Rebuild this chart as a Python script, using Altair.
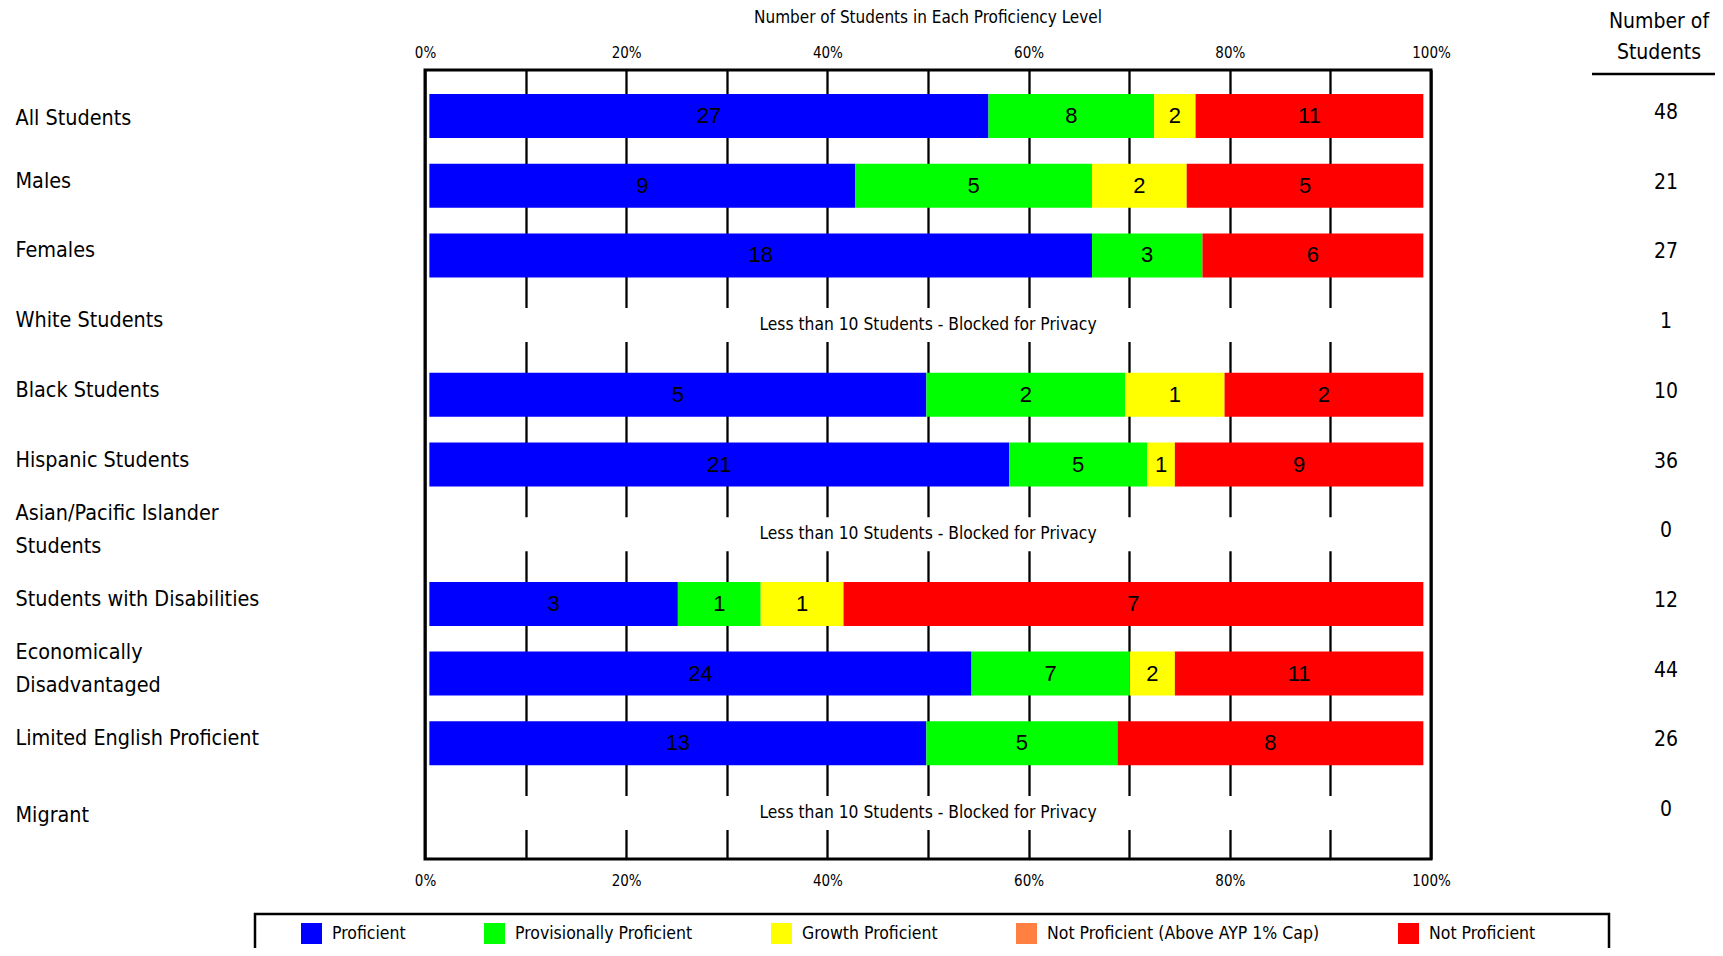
import altair as alt
import pandas as pd

# ---------------- data ----------------
groups = [
    "All Students", "Males", "Females", "White Students", "Black Students",
    "Hispanic Students", "Asian/Pacific Islander Students",
    "Students with Disabilities", "Economically Disadvantaged",
    "Limited English Proficient", "Migrant",
]
wrapped = {
    "Asian/Pacific Islander Students": ["Asian/Pacific Islander", "Students"],
    "Economically Disadvantaged": ["Economically", "Disadvantaged"],
}
levels = [
    "Proficient", "Provisionally Proficient", "Growth Proficient",
    "Not Proficient (Above AYP 1% Cap)", "Not Proficient",
]
level_colors = ["#0000FF", "#00FF00", "#FFFF00", "#FF8040", "#FF0000"]

proficient     = [27, 9, 18, 0, 5, 21, 0, 3, 24, 13, 0]
provisional    = [8, 5, 3, 0, 2, 5, 0, 1, 7, 5, 0]
growth         = [2, 2, 0, 0, 1, 1, 0, 1, 2, 0, 0]
above_cap      = [0, 0, 0, 0, 0, 0, 0, 0, 0, 0, 0]
not_proficient = [11, 5, 6, 0, 2, 9, 0, 7, 11, 8, 0]
totals         = [48, 21, 27, 1, 10, 36, 0, 12, 44, 26, 0]
blocked        = [False, False, False, True, False, False, True, False, False, False, True]

pct_ticks = [0, 0.1, 0.2, 0.3, 0.4, 0.5, 0.6, 0.7, 0.8, 0.9, 1.0]
blocked_msg = "Less than 10 Students - Blocked for Privacy"
chart_title = "Number of Students in Each Proficiency Level"
count_header = ["Number of", "Students"]

# ---------------- tables ----------------
series = [proficient, provisional, growth, above_cap, not_proficient]
rows = []
for i, g in enumerate(groups):
    if blocked[i]:
        continue
    for j, lvl in enumerate(levels):
        c = series[j][i]
        if c > 0:
            rows.append({"group": g, "level": lvl, "order": j, "count": c})
seg_df = pd.DataFrame(rows)

blk_df = pd.DataFrame({
    "group": [g for g, b in zip(groups, blocked) if b],
    "msg": blocked_msg,
    "start": 0.0,
    "end": 1.0,
})
tot_df = pd.DataFrame({"group": groups, "total": totals})
one_df = pd.DataFrame({"k": [0]})

FONT = "DejaVu Sans Condensed"
NUMFONT = "Liberation Sans"

label_expr = " : ".join(
    [f"datum.label == '{k}' ? {v!r}" for k, v in wrapped.items()]
) + " : datum.label"
multi_test = " || ".join([f"datum.value == '{k}'" for k in wrapped])
edge_test = "datum.value == 'All Students' || datum.value == 'Migrant'"

y_enc = alt.Y(
    "group:N",
    sort=groups,
    scale=alt.Scale(domain=groups, paddingInner=0, paddingOuter=0.16),
    axis=alt.Axis(
        orient="left", title=None, domain=False, ticks=False, tickSize=0,
        grid=False, labelAlign="left", labelBaseline="middle",
        labelPadding=410, labelLimit=600, labelFont=FONT, labelFontSize=21.4,
        labelColor="black", labelLineHeight=33,
        labelOffset={
            "condition": [
                {"test": multi_test, "value": -20.5},
                {"test": edge_test, "value": 3},
            ],
            "value": -4,
        },
        labelExpr=label_expr,
    ),
)

bar_scale = alt.Scale(domain=[-0.0044, 1.0077], nice=False, zero=False)
axis_scale = alt.Scale(domain=[0, 1], nice=False)

pct_label = "round(datum.value * 100) % 20 == 0 ? datum.label : ''"

def pct_axis(orient, grid, pad):
    return alt.Axis(
        orient=orient, values=pct_ticks, format=".0%", labelExpr=pct_label,
        grid=grid, gridColor="black", gridWidth=2.3, gridOpacity=1,
        domain=False, ticks=False, tickSize=0, title=None,
        labelFont=FONT, labelFontSize=15, labelColor="black",
        labelPadding=pad, labelFlush=False,
    )

# white blanks for blocked rows (interrupt the gridlines)
blanks = alt.Chart(blk_df).mark_bar(color="white", size=34).encode(
    x=alt.X("start:Q", scale=bar_scale, axis=None),
    x2="end:Q",
    y=y_enc,
)

stack_base = alt.Chart(seg_df).transform_stack(
    stack="count", groupby=["group"], as_=["x0", "x1"], offset="normalize",
    sort=[alt.SortField("order", order="ascending")],
)

bars = stack_base.mark_bar(size=44).encode(
    x=alt.X("x0:Q", scale=bar_scale, axis=None),
    x2="x1:Q",
    y=y_enc,
    color=alt.Color(
        "level:N",
        scale=alt.Scale(domain=levels, range=level_colors),
        legend=alt.Legend(
            orient="none", legendX=-124, legendY=853, direction="horizontal",
            title=None, symbolType="square", symbolSize=441,
            symbolStrokeWidth=0, symbolOpacity=1, labelFont=FONT,
            labelFontSize=17.5, labelColor="black", columnPadding=78,
            labelOffset=10, padding=0, labelLimit=400,
        ),
    ),
)

seg_text = stack_base.transform_calculate(
    mid="(datum.x0 + datum.x1) / 2"
).mark_text(font=NUMFONT, fontSize=22, color="black", baseline="middle").encode(
    x=alt.X("mid:Q", scale=bar_scale, axis=None),
    y=y_enc,
    text="count:Q",
)

blk_text = alt.Chart(blk_df).transform_calculate(
    mid="(datum.start + datum.end) / 2"
).mark_text(font=FONT, fontSize=17.3, color="black", baseline="middle").encode(
    x=alt.X("mid:Q", scale=axis_scale, axis=pct_axis("bottom", True, 14)),
    y=y_enc,
    text="msg:N",
)

top_axis = alt.Chart(blk_df).transform_calculate(
    mid="(datum.start + datum.end) / 2"
).mark_point(opacity=0).encode(
    x=alt.X("mid:Q", scale=axis_scale, axis=pct_axis("top", False, 10)),
    y=y_enc,
)

counts = alt.Chart(tot_df).mark_text(
    font=FONT, fontSize=21, color="black", baseline="middle", dy=-3
).encode(
    x=alt.value(1241),
    y=y_enc,
    text="total:Q",
)

title_text = alt.Chart(one_df).mark_text(
    font=FONT, fontSize=17, color="black", baseline="middle", align="center",
).encode(
    x=alt.value(503), y=alt.value(-52), text=alt.value(chart_title),
)

header = alt.Chart(one_df).mark_text(
    font=FONT, fontSize=21, color="black", baseline="alphabetic",
    align="center", lineHeight=30.5,
).encode(
    x=alt.value(1234), y=alt.value(-42), text=alt.value(count_header),
)

underline = alt.Chart(one_df).mark_rule(color="black", strokeWidth=2.5).encode(
    x=alt.value(1167), x2=alt.value(1400), y=alt.value(4),
)

legend_box = alt.Chart(one_df).mark_rect(
    fill="white", fillOpacity=0, stroke="black", strokeWidth=2.5
).encode(
    x=alt.value(-170), x2=alt.value(1184), y=alt.value(844), y2=alt.value(960),
)

chart = alt.layer(
    blanks, bars, seg_text, blk_text, top_axis, counts, title_text, header,
    underline, legend_box,
).resolve_scale(x="independent").resolve_axis(x="independent").properties(
    width=1006,
    height=789,
    autosize=alt.AutoSizeParams(type="none"),
    padding={"left": 417, "top": 62, "right": 284, "bottom": 89},
    background="white",
).configure_view(stroke="black", strokeWidth=3)

chart.save("out.html", embed_options={"renderer": "svg", "actions": False})
